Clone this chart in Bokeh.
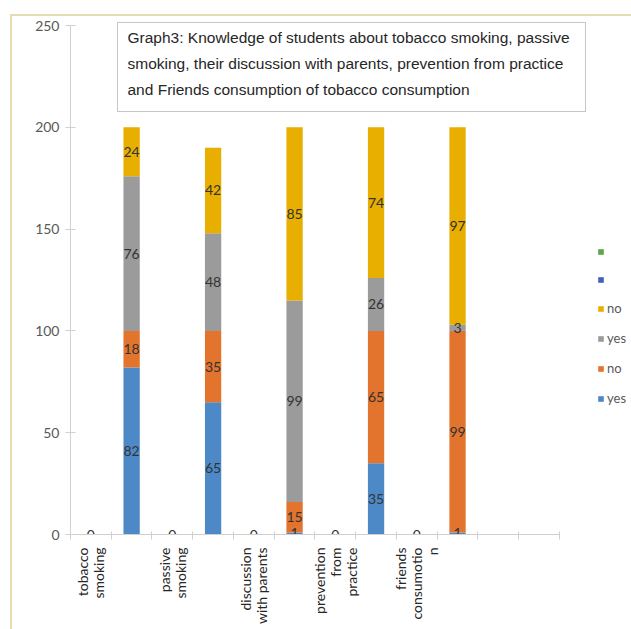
from bokeh.plotting import figure
from bokeh.models import (Range1d, LinearAxis, FixedTicker,
                          ColumnDataSource, Legend, LegendItem, BoxAnnotation, Label)
from bokeh.core.properties import value
from bokeh.embed import file_html
from bokeh.resources import INLINE
from math import pi

# ---------------- data ----------------
x_labels = ["tobacco\nsmoking", "", "passive\nsmoking", "", "discussion\nwith parents", "",
            "prevention\nfrom\npractice", "", "friends\nconsumotio\nn", "", "", ""]
yes_a = [0, 82, 0, 65, 0, 1, 0, 35, 0, 1, 0, 0]
no_a = [0, 18, 0, 35, 0, 15, 0, 65, 0, 99, 0, 0]
yes_b = [0, 76, 0, 48, 0, 99, 0, 26, 0, 3, 0, 0]
no_b = [0, 24, 0, 42, 0, 85, 0, 74, 0, 97, 0, 0]
series5 = [0] * 12
series6 = [0] * 12
series_names = ["yes", "no", "yes", "no", "", ""]
title_text = ("Graph3: Knowledge of students about tobacco smoking, passive\n"
              "smoking, their discussion with parents, prevention from practice\n"
              "and Friends consumption of tobacco consumption")
y_ticks = [0, 50, 100, 150, 200, 250]

colors = ["#4d89c7", "#e2742e", "#9b9b9b", "#e8ae00", "#3f62bf", "#5ba646"]
keys = ["s1", "s2", "s3", "s4", "s5", "s6"]
n = len(x_labels)
idx = list(range(n))

src = ColumnDataSource(dict(x=idx, s1=yes_a, s2=no_a, s3=yes_b, s4=no_b, s5=series5, s6=series6))

frame_line = "#e6dcb2"
p = figure(width=631, height=629, x_range=Range1d(-0.5, 13.27), y_range=Range1d(0, 262.3),
           output_backend="svg", toolbar_location=None,
           x_axis_location=None, y_axis_location=None,
           min_border_left=70, min_border_right=0, min_border_top=0, min_border_bottom=95)
p.outline_line_color = None
p.grid.grid_line_color = None
p.background_fill_color = None
p.border_fill_color = None
p.styles = {"background": ("linear-gradient({c}, {c}) 10px 14px / 2px 100% no-repeat, "
                           "linear-gradient({c}, {c}) 10px 14px / 100% 2px no-repeat, white")
            .format(c=frame_line)}

label_font = value("Lato")

# y axis
yax = LinearAxis(ticker=FixedTicker(ticks=y_ticks), bounds=(0, 250))
yax.axis_line_color = "#d0d0d0"
yax.major_tick_line_color = "#d0d0d0"
yax.major_tick_in = 5
yax.major_tick_out = 5
yax.minor_tick_line_color = None
yax.major_label_text_font = "Lato"
yax.major_label_text_font_size = "14px"
yax.major_label_text_color = "#595959"
yax.major_label_standoff = 6
p.add_layout(yax, "left")

# x axis: boundary ticks between categories
bounds_ticks = [i - 0.5 for i in range(n + 1)]
bax = LinearAxis(ticker=FixedTicker(ticks=bounds_ticks), bounds=(-0.5, n - 0.5))
bax.axis_line_color = "#d0d0d0"
bax.major_tick_line_color = "#d0d0d0"
bax.major_tick_in = 3
bax.major_tick_out = 5
bax.minor_tick_line_color = None
bax.major_label_overrides = {t: "" for t in bounds_ticks}
bax.major_label_standoff = 0
p.add_layout(bax, "below")

# x axis: category labels
cax = LinearAxis(ticker=FixedTicker(ticks=idx), bounds=(-0.5, n - 0.5))
cax.axis_line_color = None
cax.major_tick_line_color = None
cax.minor_tick_line_color = None
cax.major_label_orientation = pi / 2
cax.major_label_overrides = {i: l for i, l in zip(idx, x_labels)}
cax.major_label_text_font = "Lato"
cax.major_label_text_font_size = "14px"
cax.major_label_text_line_height = 0.95
cax.major_label_text_color = "#262626"
cax.major_label_standoff = 2
p.add_layout(cax, "below")

# bars
renderers = p.vbar_stack(keys, x="x", width=0.4, source=src,
                         fill_color=colors, line_color=None)

# data labels
rows = list(zip(yes_a, no_a, yes_b, no_b))
lx, ly, lt = [], [], []
for i, vals in zip(idx, rows):
    base = 0
    for v in vals:
        if v > 0:
            lx.append(i)
            ly.append(base + v / 2)
            lt.append(str(v))
        base += v
for i, lab, vals in zip(idx, x_labels, rows):
    if lab and sum(vals) == 0:
        lx.append(i)
        ly.append(0)
        lt.append("0")
p.text(x=lx, y=ly, text=lt, text_align="center", text_baseline="middle",
       text_font=label_font, text_font_size="14px", text_color="#333333")

# legend
items = []
for name, r in reversed(list(zip(series_names, renderers))):
    items.append(LegendItem(label=name if name else " ", renderers=[r]))
legend = Legend(items=items, location=(527, 128), orientation="vertical",
                glyph_width=7, glyph_height=7, label_height=14, spacing=14,
                padding=0, margin=0, label_standoff=3,
                border_line_color=None, background_fill_alpha=0,
                label_text_font="Lato", label_text_font_size="13px",
                label_text_color="#595959")
p.add_layout(legend, "center")

# title box
p.add_layout(BoxAnnotation(left=47, right=515, top=512, bottom=423,
                           left_units="screen", right_units="screen",
                           top_units="screen", bottom_units="screen",
                           fill_color="white", fill_alpha=1,
                           line_color="#404040", line_width=1))
p.add_layout(Label(x=57, y=506, x_units="screen", y_units="screen", text=title_text,
                   text_font="Liberation Sans", text_font_size="15.5px",
                   text_color="#262626", text_align="left", text_baseline="top",
                   text_line_height=1.55))

open("out.html", "w").write(file_html(p, INLINE))
